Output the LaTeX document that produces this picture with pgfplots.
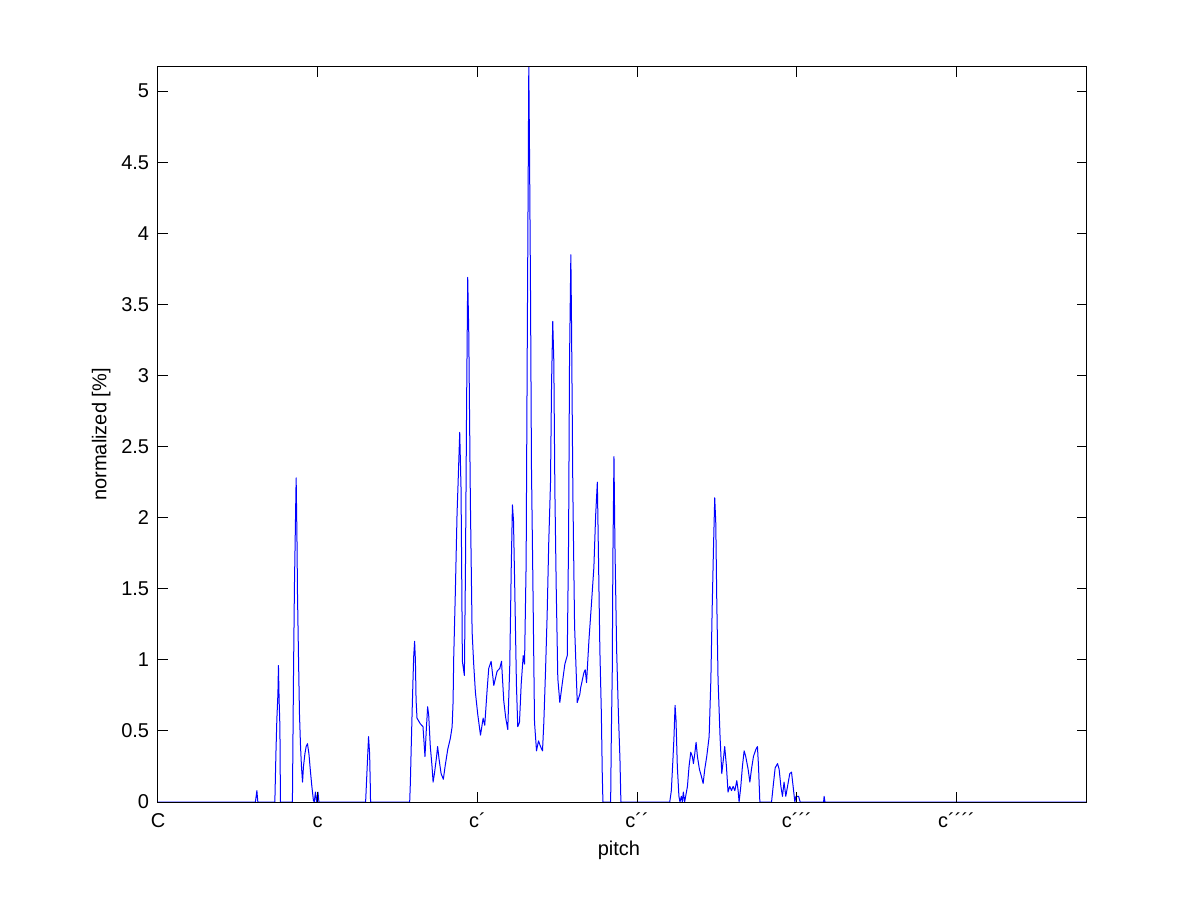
\documentclass[border=0pt]{standalone}
\usepackage{fontspec}
\setmainfont{Liberation Sans}
\usepackage{pgfplots}
\pgfplotsset{compat=1.18}
\begin{document}
\begin{tikzpicture}
\useasboundingbox (-79pt,-49.5pt) rectangle (521.5pt,401pt);
\begin{axis}[
  scale only axis,
  width=464.5pt, height=367.5pt,
  at={(0,0)}, anchor=south west,
  xmin=0, xmax=69.8, ymin=0, ymax=5.17,
  axis on top,
  tick align=inside,
  major tick length=5pt,
  xtick pos=both, ytick pos=both,
  xtick={0,12,24,36,48,60},
  xticklabels={C,c,c´,c´´,c´´´,c´´´´},
  ytick={0,0.5,1,1.5,2,2.5,3,3.5,4,4.5,5},
  scaled ticks=false,
  /pgf/number format/assume math mode=true,
  yticklabel style={/pgf/number format/fixed, anchor=east, inner sep=0pt, xshift=-4.25pt},
  xticklabel style={anchor=base, inner sep=0pt, yshift=-12.5pt},
  tick label style={font=\fontsize{10}{12}\selectfont},
  label style={font=\fontsize{10}{12}\selectfont},
  xlabel={pitch},
  xlabel style={at={(axis description cs:0.4962,0)}, anchor=base, inner sep=0pt, yshift=-26.5pt},
  ylabel={normalized [\%]},
  ylabel style={at={(axis description cs:-0.0557,0.5)}, rotate=0, anchor=base, inner sep=0pt},
  axis line style={black, line width=0.5pt},
  every tick/.style={black, line width=0.5pt},
]
\addplot[color={rgb,255:red,0;green,0;blue,255}, line width=0.5pt, line join=round, mark=none] table {
x y
0 0
7.32 0
7.43 0.08
7.50 0
8.78 0
8.86 0.34
8.93 0.58
9.01 0.76
9.05 0.96
9.10 0.72
9.16 0.53
9.20 0
10.10 0
10.18 0.88
10.25 1.51
10.33 1.98
10.38 2.28
10.44 1.87
10.48 1.47
10.56 1.00
10.63 0.62
10.71 0.39
10.78 0.25
10.86 0.14
10.93 0.25
11.04 0.34
11.13 0.39
11.23 0.41
11.34 0.34
11.44 0.23
11.56 0.11
11.68 0.01
11.74 0
11.83 0.07
11.91 0
12.02 0.07
12.09 0
15.60 0
15.70 0.21
15.82 0.46
15.90 0.34
15.95 0.12
15.97 0
18.91 0
18.96 0.13
19.03 0.40
19.09 0.62
19.16 0.86
19.21 1.02
19.28 1.13
19.34 1.00
19.39 0.72
19.46 0.59
19.71 0.55
19.91 0.53
19.96 0.46
20.06 0.32
20.16 0.51
20.26 0.67
20.34 0.61
20.46 0.39
20.59 0.25
20.67 0.14
20.77 0.20
20.92 0.31
21.01 0.39
21.12 0.30
21.27 0.20
21.44 0.16
21.57 0.25
21.77 0.37
21.97 0.45
22.10 0.53
22.17 0.70
22.22 1.02
22.34 1.47
22.47 2.03
22.55 2.25
22.67 2.60
22.77 2.20
22.87 0.99
23.02 0.89
23.10 1.62
23.19 2.83
23.27 3.69
23.35 3.30
23.47 2.12
23.60 1.20
23.72 0.97
23.85 0.77
24.02 0.62
24.23 0.47
24.43 0.59
24.55 0.54
24.73 0.79
24.85 0.94
25.03 0.99
25.23 0.82
25.48 0.92
25.68 0.94
25.81 0.99
25.98 0.71
26.13 0.59
26.28 0.51
26.43 0.96
26.54 1.64
26.63 2.09
26.71 1.98
26.81 1.48
26.93 0.83
27.03 0.53
27.16 0.56
27.29 0.83
27.44 1.03
27.54 0.97
27.66 1.68
27.74 3.13
27.86 5.17
27.91 4.63
27.99 3.57
28.06 2.36
28.16 1.61
28.29 0.56
28.44 0.36
28.59 0.43
28.74 0.39
28.89 0.36
28.99 0.56
29.12 0.93
29.24 1.32
29.36 1.83
29.49 2.24
29.57 2.94
29.66 3.38
29.74 3.10
29.82 2.19
29.92 1.51
30.04 0.87
30.19 0.70
30.37 0.83
30.57 0.97
30.75 1.03
30.85 1.85
30.92 3.10
31.02 3.85
31.07 3.37
31.17 2.19
31.30 1.24
31.50 0.70
31.70 0.76
31.75 0.80
32.00 0.91
32.10 0.93
32.20 0.84
32.38 1.14
32.55 1.37
32.75 1.65
32.88 2.01
33.01 2.25
33.05 2.01
33.20 1.07
33.31 0.63
33.38 0.20
33.43 0
34.01 0
34.06 0.46
34.13 0.91
34.18 1.73
34.26 2.43
34.33 1.82
34.46 1.07
34.59 0.63
34.71 0.30
34.78 0
38.45 0
38.57 0.08
38.69 0.30
38.77 0.46
38.85 0.68
38.92 0.58
39.02 0.25
39.14 0.04
39.22 0
39.32 0.04
39.40 0
39.47 0.07
39.57 0
39.78 0.11
39.90 0.25
40.03 0.35
40.15 0.32
40.23 0.27
40.33 0.34
40.43 0.42
40.53 0.32
40.68 0.23
40.83 0.18
40.96 0.13
41.08 0.23
41.23 0.32
41.41 0.46
41.54 0.86
41.64 1.37
41.74 1.80
41.83 2.14
41.91 1.96
41.98 1.44
42.08 0.86
42.23 0.46
42.36 0.20
42.48 0.30
42.58 0.39
42.71 0.25
42.83 0.07
42.96 0.11
43.09 0.08
43.21 0.11
43.34 0.08
43.49 0.15
43.59 0.08
43.66 0
43.79 0.11
43.91 0.25
44.04 0.36
44.16 0.32
44.34 0.23
44.47 0.14
44.59 0.23
44.74 0.32
44.92 0.37
45.04 0.39
45.12 0.25
45.22 0
46.10 0
46.22 0.11
46.37 0.24
46.55 0.27
46.67 0.23
46.80 0.11
46.92 0.04
47.04 0.14
47.17 0.04
47.30 0.11
47.47 0.20
47.60 0.21
47.72 0.11
47.85 0
47.93 0.04
48.13 0.04
48.25 0
50.01 0
50.05 0.04
50.11 0
69.8 0
};
\end{axis}
\end{tikzpicture}
\end{document}
